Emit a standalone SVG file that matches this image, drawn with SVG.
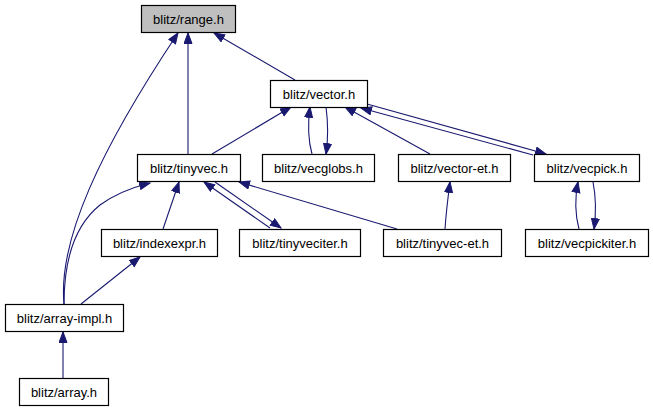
<svg xmlns="http://www.w3.org/2000/svg" width="653" height="411" viewBox="0 0 653 411">
<style>
.n rect{fill:#fff;stroke:#000;stroke-width:1.2}
.n text{font-family:"Liberation Sans",Arial,sans-serif;font-size:13px;fill:#000;text-anchor:middle}
#edges path{fill:none;stroke:#191970;stroke-width:1.1}
</style>
<defs>
<marker id="ah" markerUnits="userSpaceOnUse" markerWidth="14" markerHeight="12" refX="11" refY="4.5" orient="auto">
<path d="M0.5,0.5 L11,4.5 L0.5,8.5 z" fill="#191970" stroke="#191970" stroke-width="1"/>
</marker>
</defs>
<rect width="653" height="411" fill="#fff"/>
<g id="edges">
<path marker-end="url(#ah)" d="M64,304 C58,240 100,150 178,33"/>
<path marker-end="url(#ah)" d="M188,154 L188,33"/>
<path marker-end="url(#ah)" d="M295,80 L214,33"/>
<path marker-end="url(#ah)" d="M212,154 L291,107"/>
<path marker-end="url(#ah)" d="M312,154 C308,140 308,122 310,107"/>
<path marker-end="url(#ah)" d="M326,107 C328,122 328,140 326,154"/>
<path marker-end="url(#ah)" d="M430,154 L345,107"/>
<path marker-end="url(#ah)" d="M533,155 L361,108"/>
<path marker-end="url(#ah)" d="M367,104 L546,154"/>
<path marker-end="url(#ah)" d="M579,229 C575,214 575,197 578,182"/>
<path marker-end="url(#ah)" d="M593,182 C596,197 596,214 594,229"/>
<path marker-end="url(#ah)" d="M445,229 C446,214 448,197 450,182"/>
<path marker-end="url(#ah)" d="M397,229 L239,182"/>
<path marker-end="url(#ah)" d="M270,228 L204,182"/>
<path marker-end="url(#ah)" d="M215,182 L281,228"/>
<path marker-end="url(#ah)" d="M163,229 L179,182"/>
<path marker-end="url(#ah)" d="M64,304 C64,260 75,225 100,205 C115,194 130,188 150,183"/>
<path marker-end="url(#ah)" d="M81,304 L140,257"/>
<path marker-end="url(#ah)" d="M63,379 L63,332"/>
</g>
<g id="range" class="n"><rect x="141.5" y="5.5" width="94" height="27" style="fill:#bfbfbf"/><text x="188.5" y="23.5">blitz/range.h</text></g>
<g id="vector" class="n"><rect x="270.5" y="80.5" width="97" height="27"/><text x="319" y="98.5">blitz/vector.h</text></g>
<g id="tinyvec" class="n"><rect x="137.5" y="154.5" width="103" height="27"/><text x="189" y="172.5">blitz/tinyvec.h</text></g>
<g id="vecglobs" class="n"><rect x="262.5" y="154.5" width="112" height="27"/><text x="318.5" y="172.5">blitz/vecglobs.h</text></g>
<g id="vector-et" class="n"><rect x="398.5" y="154.5" width="112" height="27"/><text x="454.5" y="172.5">blitz/vector-et.h</text></g>
<g id="vecpick" class="n"><rect x="534.5" y="154.5" width="105" height="27"/><text x="587" y="172.5">blitz/vecpick.h</text></g>
<g id="indexexpr" class="n"><rect x="101.5" y="229.5" width="116" height="27"/><text x="159.5" y="247.5">blitz/indexexpr.h</text></g>
<g id="tinyveciter" class="n"><rect x="239.5" y="229.5" width="121" height="27"/><text x="300" y="247.5">blitz/tinyveciter.h</text></g>
<g id="tinyvec-et" class="n"><rect x="383.5" y="229.5" width="118" height="27"/><text x="442.5" y="247.5">blitz/tinyvec-et.h</text></g>
<g id="vecpickiter" class="n"><rect x="525.5" y="229.5" width="123" height="27"/><text x="587" y="247.5">blitz/vecpickiter.h</text></g>
<g id="array-impl" class="n"><rect x="5.5" y="304.5" width="118" height="27"/><text x="64.5" y="322.5">blitz/array-impl.h</text></g>
<g id="array" class="n"><rect x="19.5" y="378.5" width="89" height="27"/><text x="64" y="396.5">blitz/array.h</text></g>
</svg>
